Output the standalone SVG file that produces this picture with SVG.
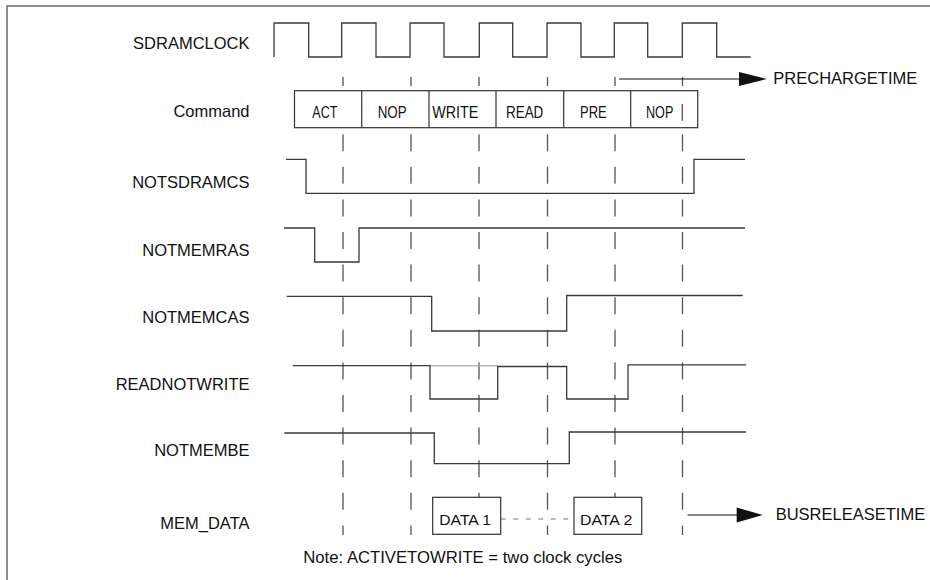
<svg xmlns="http://www.w3.org/2000/svg" width="930" height="580" viewBox="0 0 930 580">
<defs>
<style>
.lbl{font-family:"Liberation Sans",Arial,sans-serif;font-size:16.5px;fill:#111;text-anchor:end}
.txt{font-family:"Liberation Sans",Arial,sans-serif;font-size:16.5px;fill:#111}
.cmd{font-family:"Liberation Sans",Arial,sans-serif;font-size:16px;fill:#111}
.sig{fill:none;stroke:#3a3a3a;stroke-width:1.3}
.box{fill:#fff;stroke:#333;stroke-width:1.2}
.grid{fill:none;stroke:#555;stroke-width:1.3;stroke-dasharray:17 15.6;stroke-dashoffset:8}
.arr{fill:none;stroke:#111;stroke-width:1.2}
</style>
</defs>
<rect x="0" y="0" width="930" height="580" fill="#fff"/>
<rect x="7" y="6" width="960" height="620" fill="none" stroke="#555" stroke-width="1.3"/>

<g id="gridlines">
<line class="grid" x1="343" y1="77" x2="343" y2="535"/>
<line class="grid" x1="411" y1="77" x2="411" y2="535"/>
<line class="grid" x1="479" y1="77" x2="479" y2="535"/>
<line class="grid" x1="547.5" y1="77" x2="547.5" y2="535"/>
<line class="grid" x1="615" y1="77" x2="615" y2="535"/>
<line class="grid" x1="682.5" y1="77" x2="682.5" y2="535"/>
</g>

<g id="sdramclock">
<text class="lbl" x="249.5" y="49.3">SDRAMCLOCK</text>
<path class="sig" d="M274,57 V23 H308.7 V57 H341.7 V23 H376 V57 H410 V23 H444 V57 H479.3 V23 H512.7 V57 H547 V23 H581 V57 H614.3 V23 H647.7 V57 H682.3 V23 H716.7 V57 H750.7"/>
</g>

<g id="command">
<text class="lbl" x="249.5" y="117">Command</text>
<rect x="294.5" y="90.7" width="403.2" height="37" fill="#fff" stroke="#333" stroke-width="1.2"/>
<line x1="361.7" y1="90.7" x2="361.7" y2="127.7" stroke="#333" stroke-width="1.2"/>
<line x1="429" y1="90.7" x2="429" y2="127.7" stroke="#333" stroke-width="1.2"/>
<line x1="496" y1="90.7" x2="496" y2="127.7" stroke="#333" stroke-width="1.2"/>
<line x1="563.7" y1="90.7" x2="563.7" y2="127.7" stroke="#333" stroke-width="1.2"/>
<line x1="630.7" y1="90.7" x2="630.7" y2="127.7" stroke="#333" stroke-width="1.2"/>
<line x1="682.3" y1="104" x2="682.3" y2="120.7" stroke="#555" stroke-width="1.3"/>
<text class="cmd" x="312.3" y="118.3" textLength="25" lengthAdjust="spacingAndGlyphs">ACT</text>
<text class="cmd" x="377.7" y="118.3" textLength="29" lengthAdjust="spacingAndGlyphs">NOP</text>
<text class="cmd" x="432.3" y="118.3" textLength="46" lengthAdjust="spacingAndGlyphs">WRITE</text>
<text class="cmd" x="506" y="118.3" textLength="37.3" lengthAdjust="spacingAndGlyphs">READ</text>
<text class="cmd" x="580" y="118.3" textLength="26.7" lengthAdjust="spacingAndGlyphs">PRE</text>
<text class="cmd" x="646" y="118.3" textLength="27.3" lengthAdjust="spacingAndGlyphs">NOP</text>
</g>

<g id="notsdramcs">
<text class="lbl" x="249.5" y="188.3">NOTSDRAMCS</text>
<path class="sig" d="M286,159.3 H306 V193.3 H694 V159.3 H745"/>
</g>

<g id="notmemras">
<text class="lbl" x="249.5" y="256">NOTMEMRAS</text>
<path class="sig" d="M284,228 H314.7 V262 H359 V228 H745"/>
</g>

<g id="notmemcas">
<text class="lbl" x="249.5" y="322.7">NOTMEMCAS</text>
<path class="sig" d="M286.7,296.3 H431.7 V331 H566.7 V295.5 H742.7"/>
</g>

<g id="readnotwrite">
<text class="lbl" x="249.5" y="390">READNOTWRITE</text>
<line x1="430" y1="365.9" x2="497.7" y2="365.9" stroke="#aaa" stroke-width="1.2"/>
<path class="sig" d="M292.7,365.7 H430 V399 H497.7 V366.5 H566.7 V399 H628 V364.8 H746"/>
</g>

<g id="notmembe">
<text class="lbl" x="249.5" y="456">NOTMEMBE</text>
<path class="sig" d="M284.3,433 H434.3 V463.7 H569.3 V432 H746"/>
</g>

<g id="mem_data">
<text class="lbl" x="249.5" y="529.3">MEM_DATA</text>
<line x1="500.7" y1="519" x2="574" y2="519" stroke="#777" stroke-width="1.2" stroke-dasharray="5 7.5"/>
<rect class="box" x="432.7" y="497.3" width="68" height="37"/>
<text class="txt" x="439.3" y="525" textLength="51.7" lengthAdjust="spacingAndGlyphs" style="font-size:15.5px">DATA 1</text>
<rect class="box" x="574" y="497.3" width="67.7" height="37"/>
<text class="txt" x="580" y="525" textLength="52.3" lengthAdjust="spacingAndGlyphs" style="font-size:15.5px">DATA 2</text>
</g>

<g id="connectors">
<line class="arr" x1="619" y1="79" x2="740" y2="79"/>
<polygon points="739,72 766.7,79 739,86" fill="#111"/>
<line class="arr" x1="687.5" y1="515" x2="738" y2="515"/>
<polygon points="736.7,507.5 762.7,515 736.7,522.5" fill="#111"/>
</g>

<g id="labels">
<text class="txt" x="773.3" y="83.5">PRECHARGETIME</text>
<text class="txt" x="775.7" y="519.5">BUSRELEASETIME</text>
<text class="txt" x="303.3" y="563" textLength="319" lengthAdjust="spacingAndGlyphs">Note: ACTIVETOWRITE = two clock cycles</text>
</g>
</svg>
